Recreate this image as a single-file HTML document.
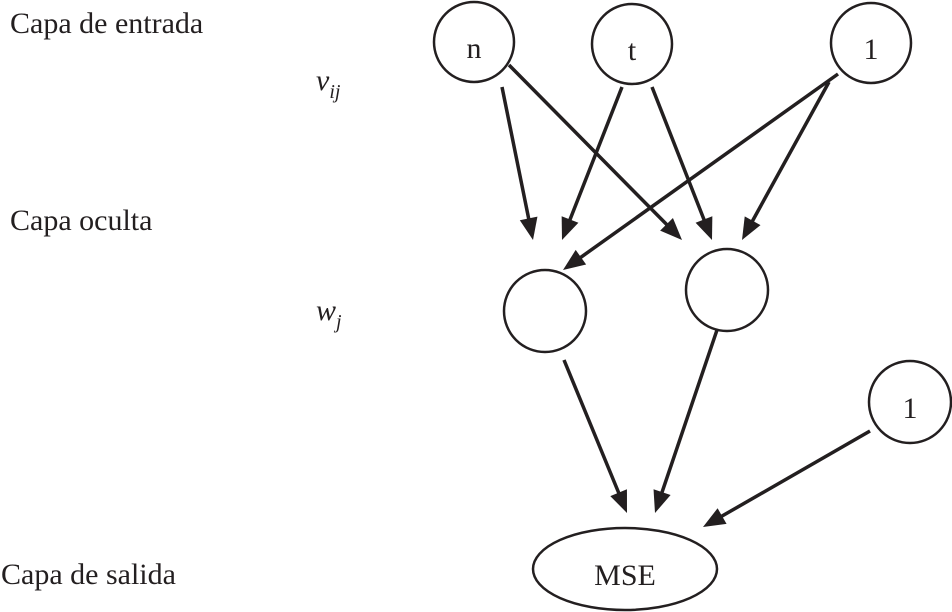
<!DOCTYPE html>
<html><head><meta charset="utf-8"><style>
html,body{margin:0;padding:0;background:#fff;}
svg{display:block;}
text{font-family:"Liberation Serif",serif;fill:#231f20;}
</style></head><body>
<svg width="952" height="612" viewBox="0 0 952 612" xmlns="http://www.w3.org/2000/svg">
<defs>
<marker id="a" markerWidth="10" markerHeight="8" refX="9" refY="4" orient="auto" markerUnits="userSpaceOnUse" viewBox="0 0 10 8">
</marker>
</defs>
<g font-size="30">
<text x="10" y="33">Capa de entrada</text>
<text x="10" y="230">Capa oculta</text>
<text x="1" y="584">Capa de salida</text>
<text x="316" y="90" font-style="italic">v<tspan font-size="20" dy="8">ij</tspan></text>
<text x="316" y="320" font-style="italic">w<tspan font-size="20" dy="8">j</tspan></text>
</g>
<g fill="none" stroke="#231f20" stroke-width="2.5">
<circle cx="474" cy="42" r="40"/>
<circle cx="632" cy="44" r="40"/>
<circle cx="871" cy="43" r="40"/>
<circle cx="545" cy="311" r="41"/>
<circle cx="727" cy="290" r="41"/>
<circle cx="910" cy="402" r="41"/>
<ellipse cx="625" cy="569" rx="92" ry="41"/>
</g>
<g font-size="30" text-anchor="middle">
<text x="474" y="58">n</text>
<text x="632" y="60">t</text>
<text x="871" y="59">1</text>
<text x="910" y="418">1</text>
<text x="625" y="585">MSE</text>
</g>
<g stroke="#231f20" stroke-width="3.5" fill="#231f20" id="arrows"></g>
<script>
var L=[[502,87,533,240],[509,65,682,240],[622,87,562,240],[652,87,712,240],[838,74,563,270],[829,82,742,240],[564,360,627,513],[717,330,655,513],[870,431,703,527]];
var g=document.getElementById('arrows'),ns='http://www.w3.org/2000/svg';
L.forEach(function(l){var dx=l[2]-l[0],dy=l[3]-l[1],d=Math.hypot(dx,dy),ux=dx/d,uy=dy/d,h=22,w=9;
var bx=l[2]-ux*h,by=l[3]-uy*h;
var ln=document.createElementNS(ns,'line');ln.setAttribute('x1',l[0]);ln.setAttribute('y1',l[1]);ln.setAttribute('x2',bx+ux*2);ln.setAttribute('y2',by+uy*2);g.appendChild(ln);
var p=document.createElementNS(ns,'polygon');p.setAttribute('stroke','none');
p.setAttribute('points',l[2]+','+l[3]+' '+(bx-uy*w)+','+(by+ux*w)+' '+(bx+uy*w)+','+(by-ux*w));g.appendChild(p);});
</script>
</svg>
</body></html>
